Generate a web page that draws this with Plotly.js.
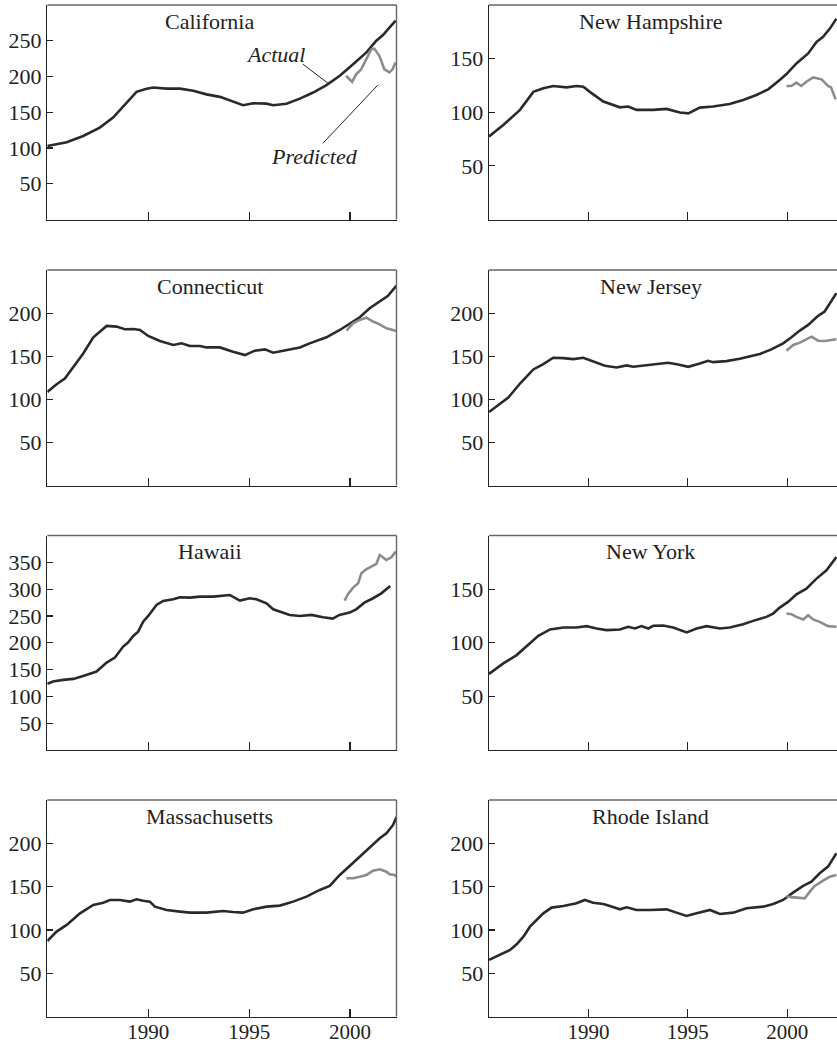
<!DOCTYPE html>
<html>
<head>
<meta charset="utf-8">
<script src="https://cdn.plot.ly/plotly-3.0.1.min.js"></script>
<style>html,body{margin:0;padding:0;background:#fff;}#chart{width:837px;height:1047px;}</style>
</head>
<body>
<div id="chart"></div>
<script>
// ---------- data (house price index) ----------
const stateNames = ["California", "New Hampshire", "Connecticut", "New Jersey", "Hawaii", "New York", "Massachusetts", "Rhode Island"];

const caYears = [1985, 1985.96, 1986.78, 1987.6, 1988.26, 1988.93, 1989.42, 1989.92, 1990.25, 1990.9, 1991.57, 1992.23, 1992.89, 1993.55, 1994.2, 1994.7, 1995.2, 1995.86, 1996.19, 1996.85, 1997.51, 1998.17, 1998.83, 1999.49, 2000.15, 2000.81, 2001.3, 2001.63, 2001.96, 2002.26];
const caActual = [102.7, 108, 116.8, 128.5, 142.5, 163.6, 178.5, 183, 184.6, 183, 183, 180, 175, 171.5, 164.5, 159.8, 162.6, 162, 159.8, 162, 169, 177.6, 187.9, 201, 217, 233.7, 250, 258, 268.7, 278];
const caPredYears = [1999.8, 2000.1, 2000.3, 2000.55, 2000.8, 2001.05, 2001.2, 2001.45, 2001.7, 2001.95, 2002.1, 2002.25];
const caPred = [201, 192.5, 203, 210, 224, 238, 239, 229, 210, 205.7, 210, 219.7];

const nhYears = [1985, 1985.72, 1986.56, 1986.9, 1987.23, 1987.73, 1988.23, 1988.9, 1989.4, 1989.74, 1990.07, 1990.75, 1991.58, 1992.0, 1992.42, 1993.26, 1993.93, 1994.6, 1995.02, 1995.6, 1996.27, 1997.1, 1997.78, 1998.45, 1999.04, 1999.62, 1999.96, 2000.46, 2001.05, 2001.47, 2001.8, 2002.14, 2002.47];
const nhActual = [77.4, 88.2, 102.2, 110.5, 119, 122.3, 124.5, 123.2, 124.5, 123.8, 119, 110, 104.6, 105.3, 102.2, 102.2, 103.1, 99.7, 99, 104.3, 105.3, 107.7, 111.5, 116.1, 121.4, 130, 135.6, 145.5, 154.8, 165.6, 170.3, 178, 187.3];
const nhPredYears = [1999.96, 2000.2, 2000.46, 2000.7, 2000.96, 2001.3, 2001.72, 2002.05, 2002.2, 2002.43];
const nhPred = [124.5, 124.5, 127.6, 124.5, 128.5, 132.5, 130.7, 124.5, 123.2, 112];

const ctYears = [1985, 1985.46, 1985.87, 1986.29, 1986.78, 1987.28, 1987.6, 1987.94, 1988.43, 1988.84, 1989.26, 1989.59, 1990.0, 1990.58, 1991.24, 1991.65, 1992.06, 1992.56, 1992.89, 1993.55, 1994.2, 1994.79, 1995.28, 1995.78, 1996.19, 1996.85, 1997.51, 1998.0, 1998.83, 1999.49, 1999.98, 2000.48, 2000.97, 2001.47, 2001.88, 2002.3];
const ctActual = [108.5, 117.5, 124, 137.7, 153.2, 171.9, 178.5, 185.1, 184.3, 181.2, 181.6, 180.4, 173.5, 167.6, 163, 165, 161.8, 161.8, 160.2, 160.2, 155.2, 151.3, 156.4, 157.9, 154, 157.1, 160.2, 164.9, 171.9, 180.4, 188.2, 195.2, 205.7, 213.5, 220.1, 232];
const ctPredYears = [1999.82, 2000.15, 2000.48, 2000.81, 2001.14, 2001.47, 2001.8, 2002.3];
const ctPred = [179.7, 188.2, 192.1, 194.8, 190.2, 187, 182.4, 179.3];

const njYears = [1985, 1985.55, 1985.97, 1986.56, 1987.23, 1987.73, 1988.23, 1988.74, 1989.24, 1989.74, 1990.24, 1990.83, 1991.42, 1991.92, 1992.25, 1992.92, 1993.6, 1994.01, 1994.51, 1995.02, 1995.6, 1996.02, 1996.27, 1996.94, 1997.61, 1998.12, 1998.62, 1999.2, 1999.79, 2000.21, 2000.63, 2001.05, 2001.55, 2001.88, 2002.22, 2002.47];
const njActual = [85.2, 95, 101.9, 118.3, 134.6, 140.8, 148.2, 147.8, 146.6, 148.2, 143.5, 138.9, 136.9, 139.3, 137.7, 139.6, 140.8, 142.4, 140.4, 137.7, 141.6, 144.7, 143.1, 144.3, 147, 150.1, 152.5, 157.9, 164.9, 171.9, 179.7, 186.3, 196.8, 201.8, 213.5, 223.2];
const njPredYears = [1999.96, 2000.3, 2000.63, 2000.97, 2001.22, 2001.55, 2001.88, 2002.22, 2002.47];
const njPred = [156.4, 163, 165.7, 169.6, 172.7, 168, 167.6, 168.8, 169.6];

const hiYears = [1985, 1985.28, 1985.78, 1986.29, 1986.78, 1987.44, 1987.94, 1988.35, 1988.76, 1989.0, 1989.26, 1989.5, 1989.75, 1990.0, 1990.41, 1990.74, 1991.24, 1991.57, 1992.06, 1992.56, 1993.22, 1993.71, 1994.04, 1994.54, 1995.03, 1995.36, 1995.86, 1996.19, 1996.68, 1997.01, 1997.51, 1998.09, 1998.66, 1999.14, 1999.47, 1999.98, 2000.3, 2000.71, 2001.14, 2001.55, 2001.99];
const hiActual = [123.3, 127.6, 130.7, 132.6, 138.2, 146.3, 163, 172.4, 192.9, 200.3, 212.7, 220.8, 239.4, 250, 270.5, 278, 281, 284.8, 284.2, 286, 286, 287.3, 289.1, 278.6, 283, 281, 273.6, 262.4, 256.2, 251.9, 250, 251.9, 247.5, 245, 251.9, 256.2, 262.4, 274.8, 283, 292.2, 305.9];
const hiPredYears = [1999.73, 1999.9, 2000.15, 2000.4, 2000.56, 2000.8, 2001.14, 2001.3, 2001.47, 2001.8, 2002.05, 2002.26];
const hiPred = [278.6, 291, 302.8, 310.9, 329.5, 337, 343.8, 346.9, 363.7, 354.3, 359.3, 369.9];

const nyYears = [1985, 1985.72, 1986.39, 1987.06, 1987.48, 1988.07, 1988.74, 1989.4, 1989.91, 1990.41, 1990.91, 1991.58, 1992.0, 1992.34, 1992.67, 1993.01, 1993.26, 1993.76, 1994.26, 1994.94, 1995.44, 1995.94, 1996.61, 1997.11, 1997.78, 1998.28, 1998.95, 1999.29, 1999.62, 2000.04, 2000.46, 2000.96, 2001.47, 2001.97, 2002.47];
const nyActual = [70.9, 80.8, 88.5, 99.4, 106.5, 112.4, 114.2, 114.2, 115.5, 113.3, 111.8, 112.4, 114.9, 113.3, 115.5, 113.3, 115.8, 116.1, 114.2, 109.6, 113.3, 115.5, 113.3, 114.2, 117.3, 120.4, 124.1, 127.2, 132.8, 138.1, 145.2, 150.5, 159.8, 167.5, 179.9];
const nyPredYears = [1999.96, 2000.2, 2000.46, 2000.8, 2001.05, 2001.3, 2001.63, 2002.05, 2002.47];
const nyPred = [127.2, 126.6, 124.1, 121.7, 125.7, 121.7, 119.5, 115.5, 114.9];

const maYears = [1985, 1985.46, 1985.96, 1986.62, 1987.28, 1987.77, 1988.1, 1988.6, 1989.09, 1989.42, 1989.75, 1990.08, 1990.33, 1990.91, 1991.57, 1992.06, 1992.89, 1993.71, 1994.2, 1994.7, 1995.2, 1995.86, 1996.52, 1997.18, 1997.84, 1998.5, 1998.99, 1999.49, 1999.98, 2000.48, 2000.97, 2001.47, 2001.8, 2002.13, 2002.3];
const maActual = [87.3, 98.1, 105.8, 119.2, 128.8, 131.5, 134.6, 134.6, 132.7, 135.4, 133.8, 132.7, 126.9, 123.1, 121.2, 120, 120, 121.9, 120.8, 120, 123.8, 126.9, 128.1, 132.7, 138.5, 146.2, 150.8, 163.5, 173.8, 184.6, 194.2, 205.8, 211.5, 221.2, 230.5];
const maPredYears = [1999.82, 2000.15, 2000.48, 2000.81, 2001.14, 2001.47, 2001.8, 2001.96, 2002.21, 2002.3];
const maPred = [159.6, 159.6, 161.5, 163.5, 168.5, 170, 167.3, 164.2, 163.5, 161.5];

const riYears = [1985, 1985.55, 1986.06, 1986.39, 1986.73, 1987.06, 1987.4, 1987.73, 1988.15, 1988.74, 1989.4, 1989.82, 1990.24, 1990.75, 1991.08, 1991.58, 1991.92, 1992.42, 1993.09, 1993.93, 1994.43, 1994.93, 1995.44, 1996.11, 1996.61, 1997.28, 1997.95, 1998.79, 1999.29, 1999.79, 2000.29, 2000.8, 2001.21, 2001.63, 2002.05, 2002.47];
const riActual = [65.4, 71.2, 76.9, 83.5, 92.3, 103.8, 111.5, 119.2, 125.8, 127.7, 130.8, 134.6, 131.5, 130, 127.7, 123.8, 126.2, 123.1, 123.1, 123.8, 120, 116.2, 119.2, 123.1, 118.5, 120, 125, 126.9, 130, 134.6, 143.1, 150.8, 155.8, 165.4, 173.1, 188.5];
const riPredYears = [1999.96, 2000.38, 2000.88, 2001.13, 2001.38, 2001.8, 2002.14, 2002.47];
const riPred = [138.5, 137.7, 136.5, 144.2, 150.8, 156.9, 161.5, 163.5];

const xTickVals = [1990, 1995, 2000];
const xTickText = ["1990", "1995", "2000"];
const yMax = [300, 200, 250, 250, 400, 200, 250, 250];
const yTicks = [[50, 100, 150, 200, 250], [50, 100, 150], [50, 100, 150, 200], [50, 100, 150, 200],
                [50, 100, 150, 200, 250, 300, 350], [50, 100, 150], [50, 100, 150, 200], [50, 100, 150, 200]];

const actualSeries = [[caYears, caActual], [nhYears, nhActual], [ctYears, ctActual], [njYears, njActual],
                      [hiYears, hiActual], [nyYears, nyActual], [maYears, maActual], [riYears, riActual]];
const predSeries = [[caPredYears, caPred], [nhPredYears, nhPred], [ctPredYears, ctPred], [njPredYears, njPred],
                    [hiPredYears, hiPred], [nyPredYears, nyPred], [maPredYears, maPred], [riPredYears, riPred]];

// ---------- layout ----------
const W = 837, H = 1047;
const FONT = "Liberation Serif, Times New Roman, serif";
const ACTUAL_COLOR = "#2a2a2a", PRED_COLOR = "#8c8c8c";
const colDomains = [[47.3 / W, 396.5 / W], [489 / W, 1]];
const colRanges = [[1985, 2002.3], [1985, 2002.5]];
const rowPx = [[5, 219.5], [270, 485.5], [535.5, 750], [800, 1016.6]];

const traces = [];
const layout = {
  width: W, height: H,
  margin: {l: 0, r: 0, t: 0, b: 0},
  paper_bgcolor: "#fff", plot_bgcolor: "#fff",
  showlegend: false,
  font: {family: FONT, color: "#222", size: 21},
  annotations: [], shapes: []
};

for (let i = 0; i < 8; i++) {
  const row = Math.floor(i / 2), col = i % 2;
  const sfx = i === 0 ? "" : String(i + 1);
  const xa = "x" + sfx, ya = "y" + sfx;
  traces.push({x: actualSeries[i][0], y: actualSeries[i][1], xaxis: xa, yaxis: ya, type: "scatter", mode: "lines",
               line: {color: ACTUAL_COLOR, width: 2.6}, hoverinfo: "skip"});
  traces.push({x: predSeries[i][0], y: predSeries[i][1], xaxis: xa, yaxis: ya, type: "scatter", mode: "lines",
               line: {color: PRED_COLOR, width: 2.6}, hoverinfo: "skip"});
  const yd = [1 - rowPx[row][1] / H, 1 - rowPx[row][0] / H];
  layout["xaxis" + sfx] = {
    domain: colDomains[col], range: colRanges[col], anchor: ya,
    showgrid: false, zeroline: false, showline: true, linecolor: "#222", linewidth: 1.3,
    ticks: "inside", ticklen: 8, tickwidth: 1.2, tickcolor: "#222",
    tickmode: "array", tickvals: xTickVals, ticktext: xTickText,
    showticklabels: row === 3, ticklabelstandoff: -4,
    tickfont: {family: FONT, size: 21, color: "#222"}, fixedrange: true
  };
  layout["yaxis" + sfx] = {
    domain: yd, range: [0, yMax[i]], anchor: xa,
    showgrid: false, zeroline: false, showline: true, linecolor: "#222", linewidth: 1.3,
    ticks: "inside", ticklen: 6, tickwidth: 1.2, tickcolor: "#222",
    tickmode: "array", tickvals: yTicks[i], ticktext: yTicks[i].map(String),
    tickfont: {family: FONT, size: 22, color: "#222"}, fixedrange: true
  };
  // state title inside panel
  layout.annotations.push({
    text: stateNames[i], xref: xa + " domain", yref: ya + " domain", x: 0.465, y: 0.925,
    xanchor: "center", yanchor: "middle", showarrow: false, font: {family: FONT, size: 22, color: "#222"}
  });
  // top border (gray)
  layout.shapes.push({type: "line", xref: xa + " domain", yref: ya + " domain", x0: 0, x1: 1, y0: 1, y1: 1,
                      line: {color: "#666", width: 1.4}});
  if (col === 0) {
    layout.shapes.push({type: "line", xref: xa + " domain", yref: ya + " domain", x0: 1, x1: 1, y0: 0, y1: 1,
                        line: {color: "#666", width: 1.4}});
  }
}

// "Actual" / "Predicted" labels with pointer lines in California panel
layout.annotations.push({text: "<i>Actual</i>", xref: "x", yref: "y", x: 1996.32, y: 231, showarrow: false,
                         xanchor: "center", yanchor: "middle", font: {family: FONT, size: 22, color: "#222"}});
layout.annotations.push({text: "<i>Predicted</i>", xref: "x", yref: "y", x: 1998.25, y: 88.3, showarrow: false,
                         xanchor: "center", yanchor: "middle", font: {family: FONT, size: 22, color: "#222"}});
layout.shapes.push({type: "line", xref: "x", yref: "y", x0: 1997.66, y0: 217.3, x1: 1998.9, y1: 190.7,
                    line: {color: "#222", width: 1}});
layout.shapes.push({type: "line", xref: "x", yref: "y", x0: 1998.65, y0: 106.5, x1: 2001.37, y1: 187.9,
                    line: {color: "#222", width: 1}});

Plotly.newPlot("chart", traces, layout, {staticPlot: true, displayModeBar: false});
</script>
</body>
</html>
